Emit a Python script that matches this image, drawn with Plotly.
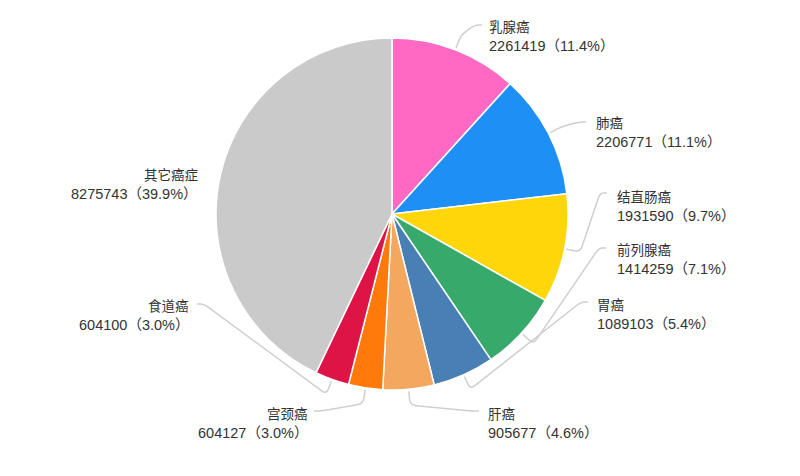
import math
import plotly.graph_objects as go

# ---------------- data ----------------
names = ["乳腺癌", "肺癌", "结直肠癌", "前列腺癌", "胃癌", "肝癌", "宫颈癌", "食道癌", "其它癌症"]
values = [2261419, 2206771, 1931590, 1414259, 1089103, 905677, 604127, 604100, 8275743]
pct_labels = ["11.4%", "11.1%", "9.7%", "7.1%", "5.4%", "4.6%", "3.0%", "3.0%", "39.9%"]

# ---------------- style / layout ----------------
colors = ["#FF69C3", "#1E8FF5", "#FFD60A", "#37A96B", "#4880B6",
          "#F4A75E", "#FF7A0A", "#DE1446", "#CACACA"]
W, H = 800, 476
CX, CY, R = 392, 214, 176
# label block anchors in pixels: (x, block-center y, side)  side=+1 right, -1 left
label_pos = [(488, 36, 1), (595, 132, 1), (616, 206, 1), (616, 259, 1), (596, 314, 1),
             (487, 423, 1), (309, 423, -1), (190, 315, -1), (199, 184, -1)]
LINE_GAP = 20
# leader-line end points in pixels (None = no line)
line_end = [(482, 25), (586, 122), (607, 193), (606, 248), (588, 302),
            (479, 411), (314, 411), (197, 304), None]

NAME_FONT = dict(family="Noto Sans CJK SC", size=13.5, color="#333333")
NUM_FONT = dict(family="Liberation Sans, Noto Sans CJK SC", size=14.5, color="#333333")
LINE = "#CFCFCF"


def px2paper(x, y):
    return x / W, 1 - y / H


fig = go.Figure()
fig.add_trace(go.Pie(
    labels=names, values=values, sort=False, direction="clockwise", rotation=0,
    marker=dict(colors=colors, line=dict(color="#FFFFFF", width=1.5)),
    textinfo="none", textposition="inside", hoverinfo="label+value",
    domain=dict(x=[(CX - R) / W, (CX + R) / W], y=[1 - (CY + R) / H, 1 - (CY - R) / H]),
    showlegend=False,
))

# ---------------- labels + leader lines ----------------
total = sum(values)
cum = 0.0
annotations = []
shapes = []


def rounded_path(pts, rad=6):
    d = "M {:.4f},{:.4f}".format(*px2paper(*pts[0]))
    for i in range(1, len(pts) - 1):
        ux, uy = pts[i - 1]
        vx, vy = pts[i]
        wx, wy = pts[i + 1]
        l1 = math.hypot(ux - vx, uy - vy) or 1
        l2 = math.hypot(wx - vx, wy - vy) or 1
        r1 = min(rad, l1 / 2)
        r2 = min(rad, l2 / 2)
        ax, ay = vx + (ux - vx) / l1 * r1, vy + (uy - vy) / l1 * r1
        bx, by = vx + (wx - vx) / l2 * r2, vy + (wy - vy) / l2 * r2
        d += " L {:.4f},{:.4f}".format(*px2paper(ax, ay))
        d += " Q {:.4f},{:.4f} {:.4f},{:.4f}".format(*px2paper(vx, vy), *px2paper(bx, by))
    d += " L {:.4f},{:.4f}".format(*px2paper(*pts[-1]))
    return d


for i, (n, v, p) in enumerate(zip(names, values, pct_labels)):
    mid = (cum + v / 2) / total
    cum += v
    th = 2 * math.pi * mid
    sx, sy = math.sin(th), -math.cos(th)
    lx, ly, side = label_pos[i]
    anchor = "left" if side > 0 else "right"
    for txt, dy, fnt in ((n, -LINE_GAP / 2, NAME_FONT),
                         ("{}（{}）".format(v, p), LINE_GAP / 2, NUM_FONT)):
        px, py = px2paper(lx, ly + dy)
        annotations.append(dict(
            x=px, y=py, xref="paper", yref="paper", showarrow=False,
            xanchor=anchor, yanchor="middle", align=anchor,
            text=txt, font=fnt, borderpad=0,
        ))
    if line_end[i] is not None:
        ex, ey = line_end[i]
        p0 = (CX + (R + 2) * sx, CY + (R + 2) * sy)
        p1 = (CX + (R + 16) * sx, CY + (R + 16) * sy)
        p2 = (ex - side * 7, ey)
        shapes.append(dict(type="path", xref="paper", yref="paper",
                           path=rounded_path([p0, p1, p2, (ex, ey)]),
                           line=dict(color=LINE, width=1.5)))

fig.update_layout(
    width=W, height=H, autosize=False,
    margin=dict(l=0, r=0, t=0, b=0),
    paper_bgcolor="#FFFFFF", plot_bgcolor="#FFFFFF",
    annotations=annotations, shapes=shapes,
    font=dict(family="Noto Sans CJK SC"),
)

fig.write_html("out.html", config={"displayModeBar": False},
               post_script="document.body.style.margin='0';document.body.style.overflow='hidden';")
